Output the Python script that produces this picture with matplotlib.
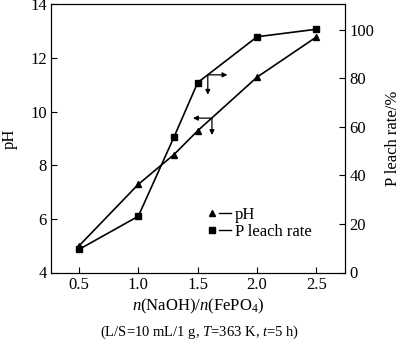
import matplotlib.pyplot as plt
from matplotlib.lines import Line2D
from matplotlib.legend_handler import HandlerTuple

plt.rcParams['font.family'] = ['Liberation Serif', 'DejaVu Serif']
plt.rcParams['mathtext.fontset'] = 'custom'
plt.rcParams['mathtext.rm'] = 'Liberation Serif'
plt.rcParams['mathtext.it'] = 'Liberation Serif:italic'

# данні
ratio = [0.5, 1.0, 1.3, 1.5, 2.0, 2.5]
ph = [4.99, 7.29, 8.4, 9.29, 11.29, 12.79]
leach = [9.5, 23.2, 55.8, 78.3, 97.2, 100.3]

fig = plt.figure(figsize=(4.0, 3.44), dpi=100)
ax = fig.add_axes([51 / 400, 1 - 272.5 / 344, 294 / 400, 268 / 344])
ax2 = ax.twinx()

ax.plot(ratio, ph, '-^', color='black', lw=1.2, ms=5)
ax2.plot(ratio, leach, '-s', color='black', lw=1.2, ms=5)

ax.set_xlim(0.265, 2.74)
ax.set_ylim(4, 14)
ax2.set_ylim(0, 110.5)
ax.set_xticks([0.5, 1.0, 1.5, 2.0, 2.5])
ax.set_xticklabels(['0.5', '1.0', '1.5', '2.0', '2.5'])
ax.set_yticks([4, 6, 8, 10, 12, 14])
ax2.set_yticks([0, 20, 40, 60, 80, 100])

for a in (ax, ax2):
    a.tick_params(direction='in', length=4, labelsize=12, width=0.8, pad=3)
ax.tick_params(top=False, right=False)

ax.set_ylabel('pH', fontsize=12, labelpad=9)
ax2.set_ylabel('P leach rate/%', fontsize=12, labelpad=8)
ax.set_xlabel(r'$n$(NaOH)/$n$(FePO$_4$)', fontsize=12, labelpad=3)

# стрілки
arr = dict(arrowstyle='-|>', lw=0.9, color='black', mutation_scale=7,
           shrinkA=0, shrinkB=0)
ax2.annotate('', xy=(1.75, 81.5), xytext=(1.585, 81.5), arrowprops=arr)
ax2.annotate('', xy=(1.585, 73.3), xytext=(1.585, 81.5), arrowprops=arr)
ax.annotate('', xy=(1.46, 9.76), xytext=(1.62, 9.76), arrowprops=arr)
ax.annotate('', xy=(1.62, 9.13), xytext=(1.62, 9.76), arrowprops=arr)

# легенда: маркер, потім коротка лінія
m1 = Line2D([], [], marker='^', color='black', ls='none', ms=4)
m2 = Line2D([], [], marker='s', color='black', ls='none', ms=4)
ln = Line2D([], [], color='black', lw=1.0)
ax.legend([(m1, ln), (m2, ln)], ['pH', 'P leach rate'], loc='lower left',
          bbox_to_anchor=(0.50, 0.09), frameon=False, fontsize=12,
          handlelength=1.45, handletextpad=0.25, labelspacing=0.05,
          borderpad=0, handler_map={tuple: HandlerTuple(ndivide=None, pad=0.1)})

fig.text(0.5, 1 - 332 / 344, r'(L/S=10 mL/1 g, $T$=363 K, $t$=5 h)',
         ha='center', va='center', fontsize=10.5)

plt.savefig('out.png', dpi=100)
